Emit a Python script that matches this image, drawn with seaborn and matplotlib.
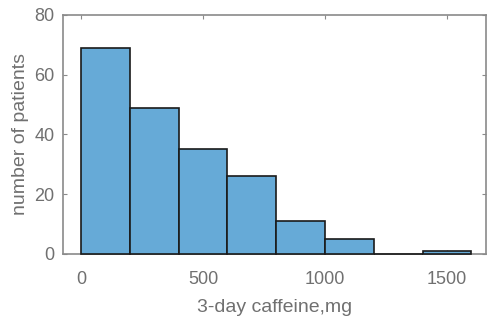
import seaborn as sns
import matplotlib.pyplot as plt
import numpy as np

# histogram data (bin edges in mg, counts per bin)
bin_edges = [0, 200, 400, 600, 800, 1000, 1200, 1400, 1600]
counts = [69, 49, 35, 26, 11, 5, 0, 1]
bin_centers = [(a + b) / 2 for a, b in zip(bin_edges[:-1], bin_edges[1:])]

sns.set_style("white")
plt.rcParams['font.family'] = ['Liberation Sans', 'DejaVu Sans']

fig = plt.figure(figsize=(4.87, 3.19), dpi=100)
ax = fig.add_axes([0.129, 0.204, 0.869, 0.749])

sns.histplot(x=bin_centers, weights=counts, bins=bin_edges, ax=ax,
             color="#66aad7", alpha=1.0, edgecolor="#1a1a1a", linewidth=1.2)
# bars above the spines so empty bins show as a dark edge line
for p in ax.patches:
    p.set_zorder(3)
    p.set_clip_on(False)

ax.set_xlim(-75, 1660)
ax.set_ylim(0, 80)
ax.set_xticks([0, 500, 1000, 1500])
ax.set_yticks([0, 20, 40, 60, 80])

grey = "#707070"
for s in ax.spines.values():
    s.set_color("#8a8a8a")
    s.set_linewidth(1.2)
ax.tick_params(direction="in", length=3, colors="#8a8a8a", labelcolor=grey,
               labelsize=13, top=True, right=True, left=True, bottom=True)
ax.tick_params(axis="x", pad=12.5)
ax.tick_params(axis="y", pad=6)
ax.set_xlabel("3-day caffeine,mg", fontsize=14, color=grey, labelpad=8)
ax.set_ylabel("number of patients", fontsize=14, color=grey, labelpad=4)

plt.savefig("out.png", dpi=100)
plt.close()
